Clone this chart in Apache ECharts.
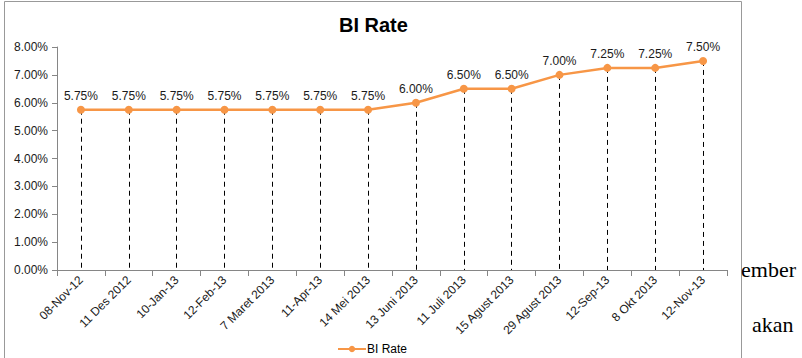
<!DOCTYPE html>
<html>
<head>
<meta charset="utf-8">
<script src="https://cdn.jsdelivr.net/npm/echarts@6/dist/echarts.min.js"></script>
<style>
  html, body { margin: 0; padding: 0; background: #fff; }
  #chart { width: 802px; height: 358px; }
</style>
</head>
<body>
<div id="chart"></div>
<script>
// BI rate decisions, Nov 2012 - Nov 2013
const dates = [
  "08-Nov-12", "11 Des 2012", "10-Jan-13", "12-Feb-13", "7 Maret 2013",
  "11-Apr-13", "14 Mei 2013", "13 Juni 2013", "11 Juli 2013", "15 Agust 2013",
  "29 Agust 2013", "12-Sep-13", "8 Okt 2013", "12-Nov-13"
];
const rates = [5.75, 5.75, 5.75, 5.75, 5.75, 5.75, 5.75, 6.0, 6.5, 6.5, 7.0, 7.25, 7.25, 7.5];
const yTicks = { min: 0, max: 8, step: 1 };

const font = "Liberation Sans, Arial, sans-serif";
const orange = "#F79646";

const chart = echarts.init(document.getElementById("chart"), null, { renderer: "svg" });

// drop lines from each point down to the axis
const dropLines = rates.map((v, i) => [{ coord: [i, v] }, { coord: [i, 0] }]);

chart.setOption({
  animation: false,
  backgroundColor: "#fff",
  title: {
    text: "BI Rate",
    left: 334,
    top: 10,
    textStyle: { fontFamily: font, fontSize: 20, fontWeight: "bold", color: "#000" }
  },
  legend: {
    left: 337,
    top: 343,
    padding: 0,
    itemWidth: 28,
    itemHeight: 8,
    itemGap: 4,
    textStyle: { fontFamily: font, fontSize: 12, color: "#000", padding: [0, 0, 0, -4] },
    data: ["BI Rate"]
  },
  grid: { left: 57, right: 75, top: 47, bottom: 88 },
  xAxis: {
    type: "category",
    data: dates,
    boundaryGap: true,
    axisLine: { lineStyle: { color: "#868686", width: 1 } },
    axisTick: { show: true, length: 6, lineStyle: { color: "#868686" } },
    axisLabel: {
      rotate: 45,
      interval: 0,
      margin: 8,
      fontFamily: font,
      fontSize: 12,
      color: "#1a1a1a"
    },
    splitLine: { show: false }
  },
  yAxis: {
    type: "value",
    min: yTicks.min,
    max: yTicks.max,
    interval: yTicks.step,
    axisLine: { show: true, lineStyle: { color: "#868686", width: 1 } },
    axisTick: { show: true, length: 5, lineStyle: { color: "#868686" } },
    axisLabel: {
      margin: 9,
      fontFamily: font,
      fontSize: 12,
      color: "#1a1a1a",
      formatter: v => v.toFixed(2) + "%"
    },
    splitLine: { show: false }
  },
  series: [
    {
      name: "BI Rate",
      type: "line",
      data: rates,
      symbol: "circle",
      symbolSize: 8,
      itemStyle: { color: orange },
      lineStyle: { color: orange, width: 2.5 },
      label: {
        show: true,
        position: "top",
        distance: 4,
        fontFamily: font,
        fontSize: 12,
        color: "#1a1a1a",
        formatter: p => p.value.toFixed(2) + "%"
      },
      markLine: {
        silent: true,
        symbol: "none",
        label: { show: false },
        lineStyle: { color: "#000", type: [5, 4], width: 1 },
        data: dropLines,
        z: 1
      },
      z: 3
    }
  ],
  graphic: [
    {
      type: "rect",
      shape: { x: 4.5, y: 1.5, width: 737, height: 400 },
      style: { fill: "none", stroke: "#999", lineWidth: 1 },
      silent: true,
      z: -1
    },
    {
      type: "text",
      left: 741,
      top: 258,
      style: { text: "ember", font: "22px 'Liberation Serif', 'Times New Roman', serif", fill: "#000" },
      silent: true
    },
    {
      type: "text",
      left: 752,
      top: 313,
      style: { text: "akan", font: "22px 'Liberation Serif', 'Times New Roman', serif", fill: "#000" },
      silent: true
    }
  ]
});
</script>
</body>
</html>
